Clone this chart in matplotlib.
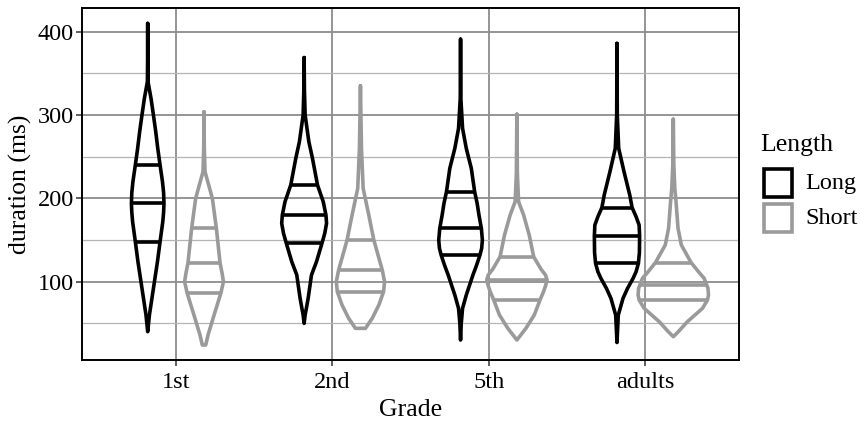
import numpy as np
import matplotlib.pyplot as plt
from matplotlib.patches import Rectangle

plt.rcParams['font.family'] = ['Liberation Serif', 'DejaVu Serif']

grades = ['1st', '2nd', '5th', 'adults']
lengths = ['Long', 'Short']

# violin outlines: duration values and relative half widths
long_y = [
    [410, 380, 340, 320, 300, 280, 260, 240, 220, 207, 194, 183, 172, 148, 124, 100, 76, 60, 40],
    [369, 330, 300, 268, 248, 216, 196, 180, 170, 158, 146, 124, 108, 80, 60, 50],
    [391, 320, 284, 260, 236, 208, 194, 180, 164, 150, 140, 132, 120, 108, 84, 68, 50, 30],
    [386, 300, 260, 232, 204, 189, 178, 168, 155, 135, 122, 112, 104, 92, 80, 60, 40, 27],
]
long_w = [
    [0, 0, 0.3, 3.3, 5.7, 8, 10, 12.3, 14.7, 15.8, 16.2, 15.8, 15, 12.3, 9.7, 6.7, 3.7, 1.7, 0],
    [0, 0.3, 1, 4.7, 8.3, 13.3, 19, 21.7, 22.3, 20.5, 17.7, 12.3, 7.3, 4, 1, 0],
    [0, 0.3, 2, 5.7, 10.7, 14, 16.5, 18.3, 20.7, 21.7, 21, 19.3, 16, 12.3, 5.7, 2, 0.7, 0],
    [0, 0.3, 1.7, 7, 12.7, 15, 19, 22, 22.5, 22.3, 21.3, 19, 16, 10.5, 6, 1.3, 0.5, 0],
]
short_y = [
    [304, 260, 232, 200, 164, 122, 110, 100, 93, 86, 60, 36, 24],
    [335, 260, 212, 180, 150, 114, 100, 88, 72, 56, 44],
    [301, 230, 196, 180, 156, 130, 115, 108, 102, 95, 88, 78, 60, 44, 30],
    [295, 240, 212, 196, 164, 144, 123, 112, 104, 92, 84, 78, 68, 52, 40, 34],
]
short_w = [
    [0, 0.3, 1, 8.3, 12.3, 16, 18, 19.3, 18, 16.7, 10, 4, 1.7],
    [0, 1, 2.7, 8.3, 13.3, 21.7, 24, 23, 18.3, 11.7, 5],
    [0, 0.5, 1.7, 6.7, 12.3, 16.7, 24, 28.5, 30, 28.5, 26.5, 23, 17.3, 9, 0],
    [0, 0.5, 1.5, 2.7, 4.7, 8, 17.7, 25, 30.7, 34.5, 35, 34, 29, 14, 5, 0],
]

# quartiles (25%, 50%, 75%)
long_q = [[148, 194, 240], [146, 180, 216], [132, 164, 208], [122, 155, 189]]
short_q = [[86, 122, 164], [88, 114, 150], [78, 102, 130], [78, 96, 123]]

colors = {'Long': 'black', 'Short': '#9a9a9a'}
dodge = 0.18
max_half = 0.225
lw = 2.6

fig = plt.figure(figsize=(8.61, 4.24), dpi=100)
W, H = 861, 424
ax = fig.add_axes([82 / W, (424 - 360) / H, (739 - 82) / W, (360 - 8) / H])

wmax = max(max(max(w) for w in long_w), max(max(w) for w in short_w))

for i, g in enumerate(grades):
    for name, ys, ws, qs, off in [('Long', long_y, long_w, long_q, -dodge),
                                  ('Short', short_y, short_w, short_q, dodge)]:
        y = np.array(ys[i], dtype=float)
        w = np.array(ws[i], dtype=float) / wmax * max_half
        cx = i + 1 + off
        xs = np.concatenate([cx - w, (cx + w)[::-1], [cx - w[0]]])
        yy = np.concatenate([y, y[::-1], [y[0]]])
        ax.plot(xs, yy, color=colors[name], lw=lw, solid_joinstyle='round',
                solid_capstyle='round', zorder=3)
        for q in qs[i]:
            hw = np.interp(q, y[::-1], w[::-1])
            ax.plot([cx - hw, cx + hw], [q, q], color=colors[name], lw=lw,
                    solid_capstyle='butt', zorder=3)

ax.set_xlim(0.4, 4.6)
ax.set_ylim(6, 428.5)
ax.set_xticks(range(1, 5))
ax.set_xticklabels(grades)
ax.set_yticks([100, 200, 300, 400])
ax.set_yticks([50, 150, 250, 350], minor=True)
ax.grid(which='major', color='#8c8c8c', lw=1.3, zorder=0)
ax.grid(which='minor', axis='y', color='#b4b4b4', lw=0.9, zorder=0)
ax.set_axisbelow(True)
for s in ax.spines.values():
    s.set_linewidth(1.4)
    s.set_color('black')
ax.tick_params(which='major', length=4, width=1.1, color='#333333',
               labelsize=17.5, pad=2, labelcolor='black')
ax.tick_params(axis='x', pad=5)
ax.tick_params(which='minor', length=0)

ax.set_xlabel('Grade', fontsize=18.5, labelpad=4)
ax.set_ylabel('duration (ms)', fontsize=18.5, labelpad=4)

# legend
fig.text(760 / W, 1 - 145 / H, 'Length', fontsize=18.5, va='center', ha='left')
for k, name in enumerate(lengths):
    top = 168 + k * 35
    fig.add_artist(Rectangle((763.5 / W, 1 - (top + 28.5) / H), 28 / W, 28 / H,
                             transform=fig.transFigure, fill=False,
                             edgecolor=colors[name], lw=lw))
    fig.text(805 / W, 1 - (top + 15) / H, name, fontsize=17.5, va='center', ha='left')

fig.savefig('out.png', dpi=100)
